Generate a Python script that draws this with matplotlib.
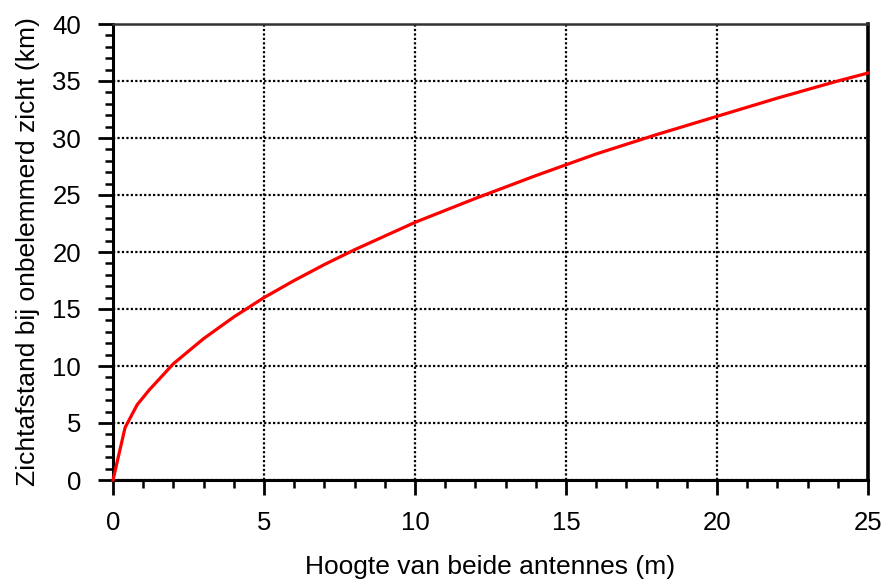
import matplotlib
matplotlib.use("Agg")
import matplotlib.pyplot as plt
from matplotlib.ticker import MultipleLocator

height_m = [0, 0.4, 0.8, 1.2, 2, 3, 4, 5, 6, 7, 8, 9, 10, 12, 14, 16, 18, 20, 22, 24, 25]
distance_km = [0, 4.6, 6.6, 7.9, 10.2, 12.4, 14.3, 16.0, 17.5, 18.9, 20.2, 21.4, 22.6,
               24.7, 26.7, 28.6, 30.3, 31.9, 33.5, 35.0, 35.7]

xlabel = "Hoogte van beide antennes (m)"
ylabel = "Zichtafstand bij onbelemmerd zicht (km)"

plt.rcParams['font.family'] = ['Liberation Sans', 'DejaVu Sans']

fig = plt.figure(figsize=(8.85, 5.79), dpi=100)
ax = fig.add_axes([113/885, 1 - 480/579, (868 - 113)/885, (480 - 24)/579])

ax.plot(height_m, distance_km, color='#ff0000', lw=2.3, zorder=3, clip_on=False)

ax.set_xlim(0, 25)
ax.set_ylim(0, 40)
ax.xaxis.set_major_locator(MultipleLocator(5))
ax.xaxis.set_minor_locator(MultipleLocator(1))
ax.yaxis.set_major_locator(MultipleLocator(5))
ax.yaxis.set_minor_locator(MultipleLocator(1))

ax.grid(True, which='major', color='black', linestyle=(0, (1.0, 1.0)), linewidth=1.6)
ax.tick_params(which='major', direction='out', length=11, width=2.0, labelsize=18.5, colors='black')
ax.tick_params(axis='x', which='major', pad=11)
ax.tick_params(axis='y', which='major', pad=12)
ax.tick_params(which='minor', direction='out', length=5.5, width=1.8)

for s in ['left', 'bottom']:
    ax.spines[s].set_linewidth(2.2)
ax.spines['right'].set_linewidth(2.6)
ax.spines['top'].set_linewidth(1.8)
ax.spines['top'].set_color('#333333')

ax.set_xlabel(xlabel, fontsize=19, labelpad=15)
ax.set_ylabel(ylabel, fontsize=19, labelpad=9)

fig.savefig("out.png", dpi=100)
